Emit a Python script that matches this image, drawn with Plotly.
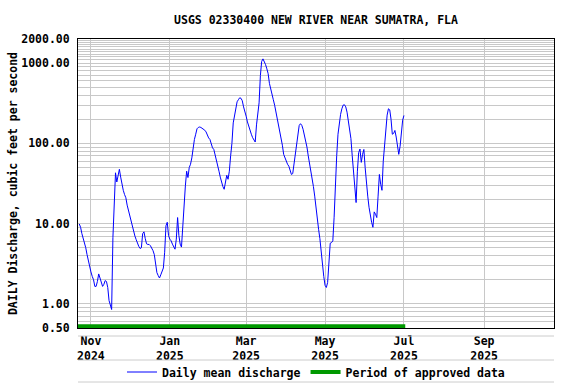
import plotly.graph_objects as go
import pandas as pd

# Daily mean discharge (cfs), one value per day from 2024-10-23
oct_2024 = [9.9, 9.0, 7.5, 6.7, 5.8, 5.0, 4.1, 3.4, 3.0]
nov_2024 = [2.5, 2.2, 2.0, 1.65, 1.65, 1.9, 2.36, 2.1, 1.9, 1.65,
            1.75, 1.95, 1.9, 1.6, 1.1, 0.95, 0.85, 6.7, 23, 43,
            33, 42, 47.5, 38, 30, 26, 23, 21, 17, 14.5]
dec_2024 = [12.5, 10.5, 9.0, 7.8, 7.0, 6.3, 5.6, 5.2, 4.9, 5.0,
            7.5, 7.9, 6.5, 5.6, 5.5, 5.5, 5.3, 5.0, 4.6, 4.1,
            2.9, 2.45, 2.25, 2.1, 2.3, 2.5, 2.8, 4.4, 9.4, 10.4, 7.1]
jan_2025 = [6.4, 6.1, 5.55, 5.0, 4.8, 6.4, 11.9, 7.1, 5.55, 5.1,
            10.4, 16, 29.5, 45, 37.5, 50, 55, 66, 95, 112,
            130, 152, 158, 160, 158, 155, 150, 146, 139, 126, 117]
feb_2025 = [112, 97, 88, 84, 73, 60, 52, 45, 38, 32,
            29, 26.8, 35, 40, 35.7, 45, 70, 100, 180, 230,
            291, 330, 350, 370, 365, 340, 285, 255]
mar_2025 = [218, 185, 160, 141, 130, 118, 108, 104, 170, 230,
            320, 700, 1050, 1130, 1050, 960, 850, 740, 560, 490,
            420, 350, 300, 250, 208, 175, 150, 120, 95, 73, 66]
apr_2025 = [60, 55, 52, 47, 41, 42, 55, 80, 97, 136,
            167, 176, 168, 150, 128, 107, 90, 70, 57, 45,
            36, 29, 22, 15, 11.5, 8.5, 6.5, 4.3, 3.2, 2.2]
may_2025 = [1.7, 1.6, 1.85, 3.3, 5.7, 5.8, 6.1, 12, 35, 70,
            130, 180, 230, 270, 300, 303, 285, 245, 190, 150,
            115, 70, 42, 28, 18.3, 45, 77, 85, 58, 73, 84]
jun_2025 = [50, 31, 22, 16, 12.5, 10.4, 9.0, 14, 13.1, 11.9,
            22, 41, 31, 26, 60, 95, 156, 225, 270, 262,
            200, 130, 133, 145, 120, 92, 73, 92, 150, 195]
jul_2025 = [223]

flow = (oct_2024 + nov_2024 + dec_2024 + jan_2025 + feb_2025 + mar_2025
        + apr_2025 + may_2025 + jun_2025 + jul_2025)
first_day = "2024-10-23"
dates = pd.date_range(first_day, periods=len(flow), freq="D")

# Period of approved data
approved_start = "2024-10-22"
approved_end = "2025-07-02"
approved_level = 0.525

# Axis settings
x_range = ["2024-10-22", "2025-10-25"]
x_tick_dates = ["2024-11-01", "2025-01-01", "2025-03-01", "2025-05-01", "2025-07-01", "2025-09-01"]
x_tick_text = ["Nov<br>2024", "Jan<br>2025", "Mar<br>2025", "May<br>2025", "Jul<br>2025", "Sep<br>2025"]
y_labeled = {0.5: "0.50", 1: "1.00", 10: "10.00", 100: "100.00", 1000: "1000.00", 2000: "2000.00"}
y_grid_vals = ([0.5, 0.6, 0.7, 0.8, 0.9]
               + [1, 2, 3, 4, 5, 6, 7, 8, 9]
               + [10, 20, 30, 40, 50, 60, 70, 80, 90]
               + [100, 200, 300, 400, 500, 600, 700, 800, 900]
               + [1000, 1100, 1200, 1300, 1400, 1500, 1600, 1700, 1800, 1900, 2000])
y_grid_text = [y_labeled.get(v, "") for v in y_grid_vals]

FONT = "DejaVu Sans Mono"
font_b = dict(family=FONT, size=11.5, color="black", weight="bold")

fig = go.Figure()
fig.add_trace(go.Scatter(
    x=dates, y=flow, mode="lines", name="Daily mean discharge",
    line=dict(color="#0000ff", width=1),
))
fig.add_trace(go.Scatter(
    x=[approved_start, approved_end], y=[approved_level, approved_level],
    mode="lines", name="Period of approved data",
    line=dict(color="#009900", width=4),
))

fig.update_layout(
    width=576, height=384,
    margin=dict(l=78, r=22, t=39, b=56, autoexpand=False),
    paper_bgcolor="white", plot_bgcolor="white",
    font=font_b,
    title=dict(text="USGS 02330400 NEW RIVER NEAR SUMATRA, FLA",
               x=(78 + 554) / 2 / 576, xanchor="center", xref="container",
               y=1 - 20 / 384, yanchor="middle", yref="container",
               font=font_b, automargin=False),
    showlegend=True,
    legend=dict(orientation="h", x=0.5, xanchor="center", y=-44 / 289, yanchor="middle",
                font=font_b, bgcolor="rgba(0,0,0,0)", itemwidth=30,
                tracegroupgap=0),
    xaxis=dict(
        type="date", range=x_range, tickmode="array",
        tickvals=x_tick_dates, ticktext=x_tick_text,
        showgrid=True, gridcolor="#c8c8c8", gridwidth=1,
        showline=True, linecolor="black", linewidth=1, mirror=True,
        ticks="", tickfont=font_b, layer="below traces", zeroline=False,
        automargin=False, ticklabelstandoff=2,
    ),
    yaxis=dict(
        type="log", range=[-0.30103, 3.30103], tickmode="array",
        tickvals=y_grid_vals, ticktext=y_grid_text,
        showgrid=True, gridcolor="#c8c8c8", gridwidth=1,
        showline=True, linecolor="black", linewidth=1, mirror=True,
        ticks="", tickfont=font_b, ticklabelstandoff=5,
        title=dict(text="DAILY Discharge, cubic feet per second", font=font_b, standoff=1),
        layer="below traces", zeroline=False, automargin=False,
    ),
)

# Faint separator rules below the plot, as in the original image
for py in [-8 / 289, -32 / 289, -54 / 289]:
    fig.add_shape(type="line", xref="paper", yref="paper", x0=0, x1=1, y0=py, y1=py,
                  line=dict(color="#cccccc", width=1), layer="above")

fig.write_html("out.html", config={"displayModeBar": False},
               post_script="document.body.style.margin='0';")
